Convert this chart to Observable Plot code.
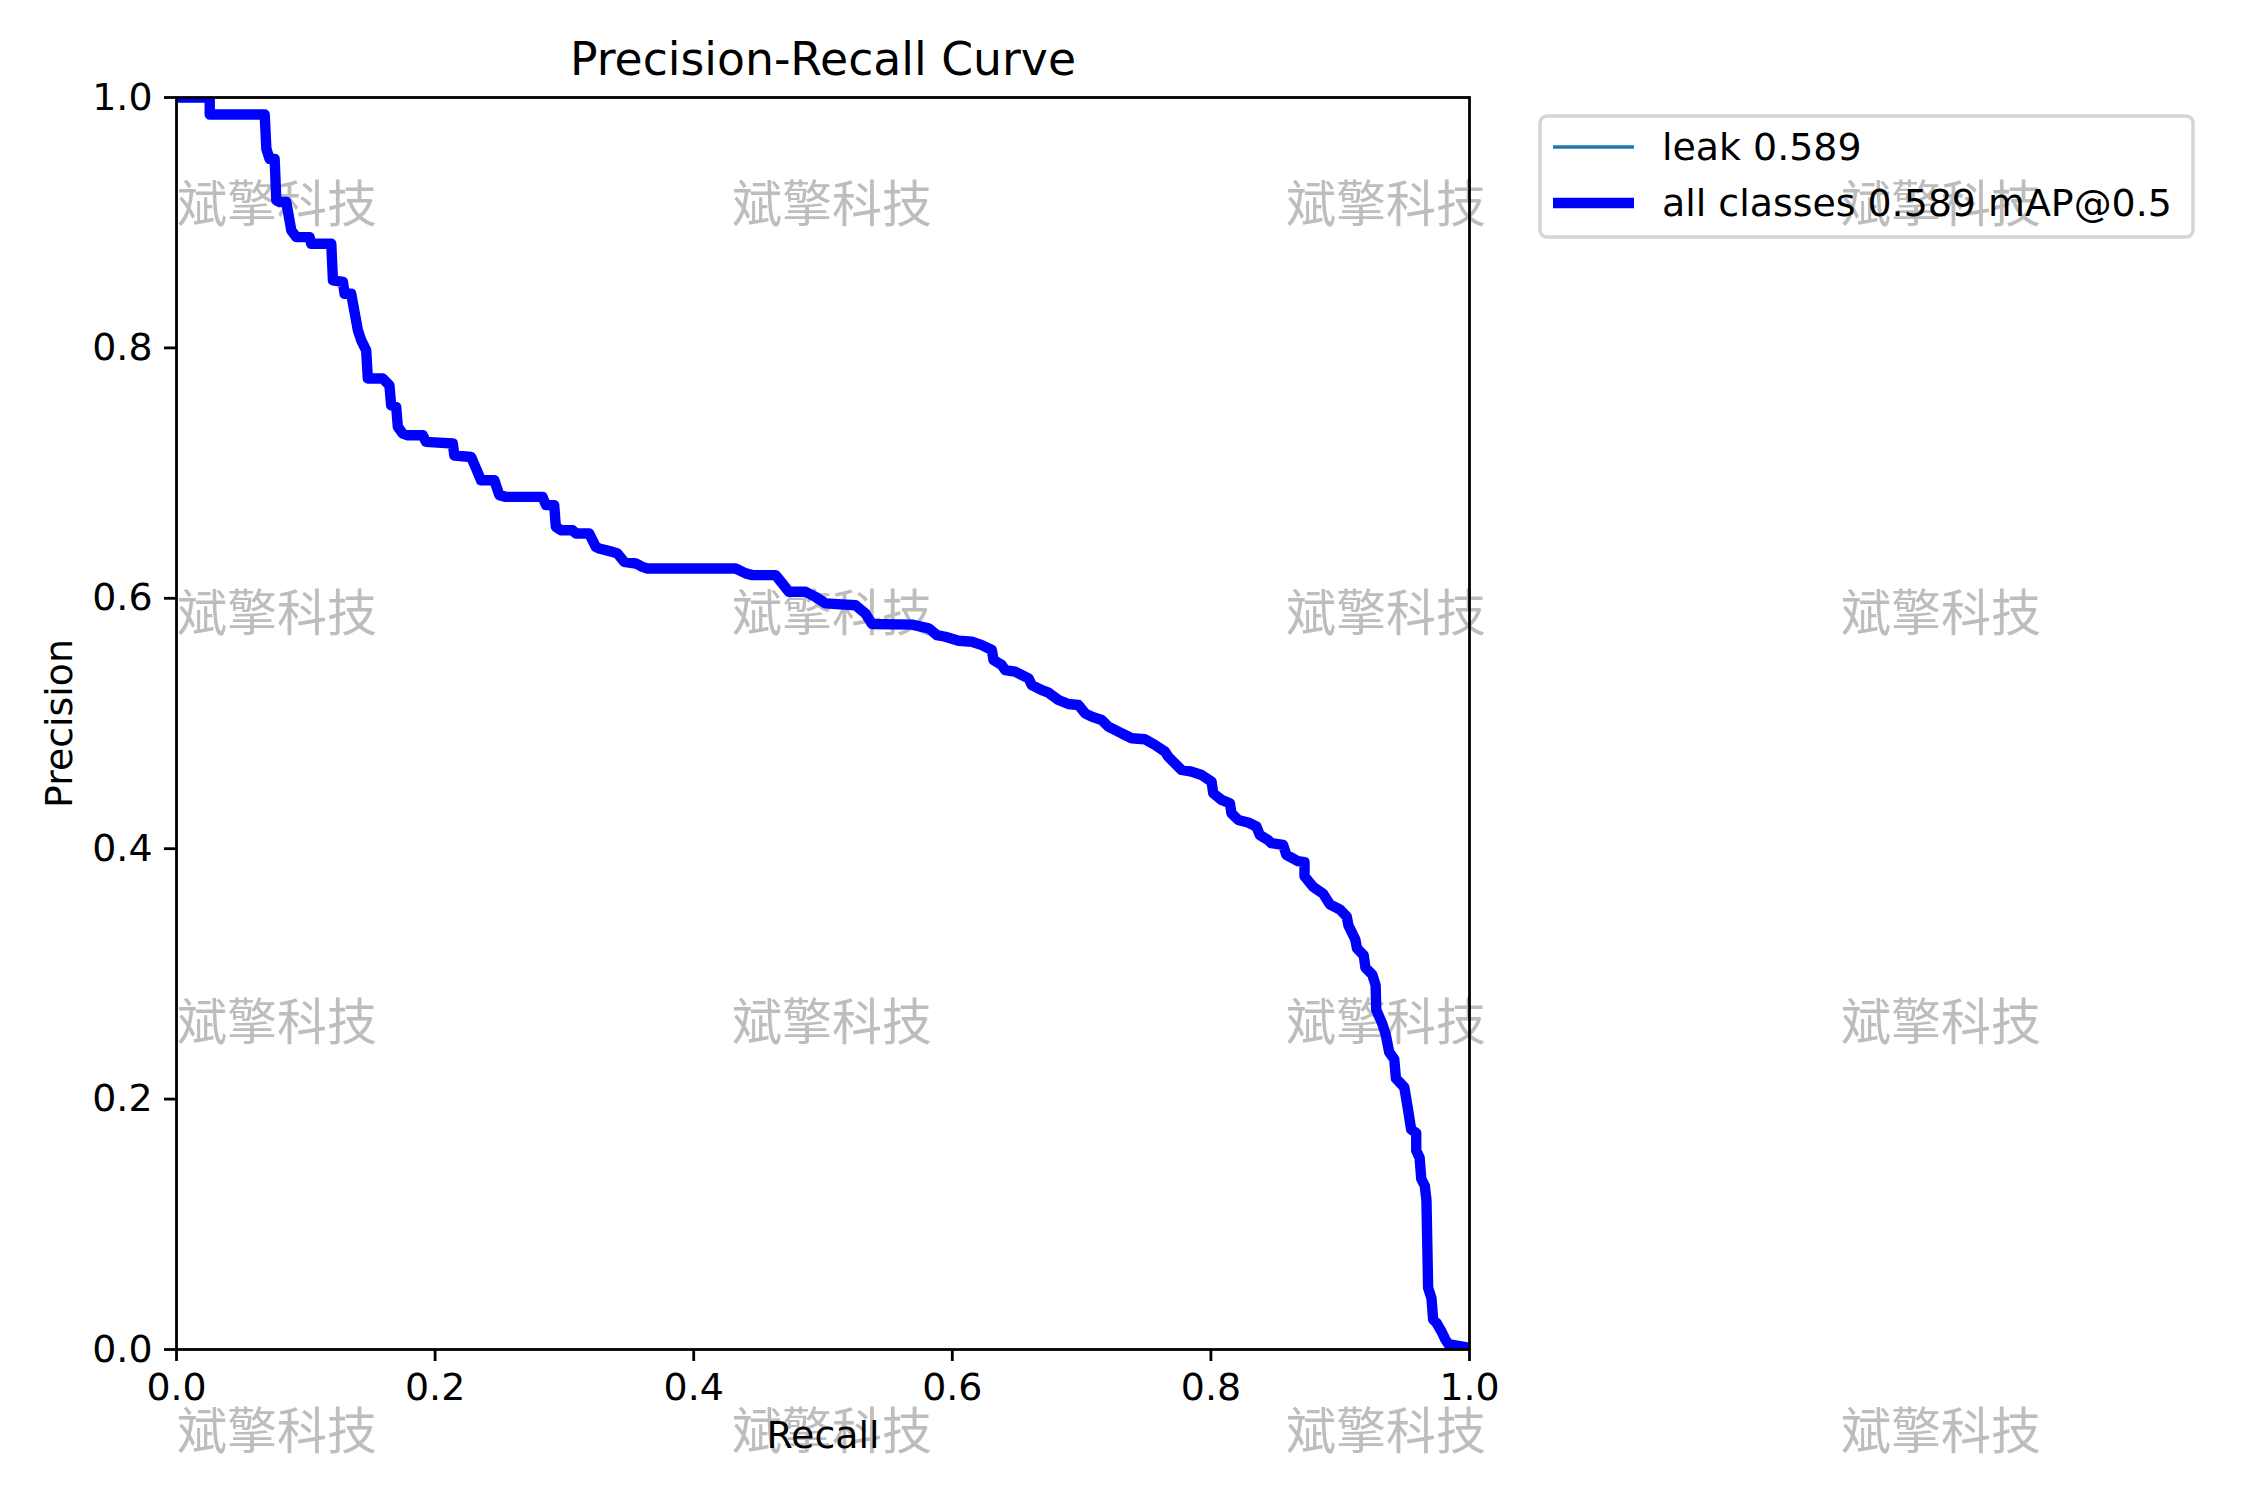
<!DOCTYPE html>
<html>
<head>
<meta charset="utf-8">
<script src="https://cdn.jsdelivr.net/npm/d3@7"></script>
<script src="https://cdn.jsdelivr.net/npm/@observablehq/plot@0.6"></script>
<style>
  html, body { margin: 0; padding: 0; background: white; }
  #chart { position: relative; width: 2250px; height: 1500px; }
</style>
</head>
<body>
<div id="chart"></div>
<script>
// ---- data ----
const recall = [
  0.0000, 0.0257, 0.0257, 0.0682, 0.0695, 0.0720, 0.0759, 0.0772, 0.0798, 0.0849,
  0.0888, 0.0927, 0.1029, 0.1042, 0.1197, 0.1210, 0.1287, 0.1300, 0.1351, 0.1403,
  0.1429, 0.1467, 0.1480, 0.1596, 0.1647, 0.1660, 0.1699, 0.1712, 0.1750, 0.1789,
  0.1905, 0.1930, 0.2137, 0.2149, 0.2278, 0.2317, 0.2355, 0.2458, 0.2497, 0.2548,
  0.2831, 0.2857, 0.2921, 0.2934, 0.2973, 0.3063, 0.3089, 0.3191, 0.3243, 0.3269,
  0.3372, 0.3410, 0.3462, 0.3552, 0.3603, 0.3642, 0.4324, 0.4402, 0.4453, 0.4633,
  0.4685, 0.4736, 0.4865, 0.4942, 0.5019, 0.5251, 0.5328, 0.5379, 0.5688, 0.5817,
  0.5881, 0.5946, 0.6049, 0.6151, 0.6229, 0.6306, 0.6319, 0.6383, 0.6409, 0.6486,
  0.6589, 0.6615, 0.6692, 0.6744, 0.6821, 0.6898, 0.6975, 0.7027, 0.7078, 0.7155,
  0.7207, 0.7284, 0.7336, 0.7387, 0.7490, 0.7568, 0.7645, 0.7670, 0.7773, 0.7850,
  0.7928, 0.8005, 0.8018, 0.8082, 0.8147, 0.8159, 0.8211, 0.8288, 0.8352, 0.8378,
  0.8442, 0.8468, 0.8558, 0.8584, 0.8674, 0.8724, 0.8724, 0.8790, 0.8868, 0.8920,
  0.8999, 0.9051, 0.9064, 0.9117, 0.9130, 0.9182, 0.9195, 0.9248, 0.9274, 0.9279,
  0.9326, 0.9352, 0.9379, 0.9418, 0.9431, 0.9496, 0.9523, 0.9549, 0.9588, 0.9588,
  0.9614, 0.9627, 0.9654, 0.9667, 0.9680, 0.9706, 0.9719, 0.9745, 0.9785, 0.9811,
  0.9837, 1.0000
];
const precision = [
  1.0000, 1.0000, 0.9864, 0.9864, 0.9590, 0.9510, 0.9510, 0.9178, 0.9165, 0.9165,
  0.8939, 0.8885, 0.8885, 0.8832, 0.8832, 0.8540, 0.8527, 0.8433, 0.8433, 0.8140,
  0.8060, 0.7980, 0.7755, 0.7755, 0.7701, 0.7542, 0.7529, 0.7369, 0.7316, 0.7302,
  0.7302, 0.7249, 0.7236, 0.7141, 0.7129, 0.7037, 0.6943, 0.6943, 0.6824, 0.6810,
  0.6810, 0.6744, 0.6744, 0.6571, 0.6544, 0.6544, 0.6518, 0.6518, 0.6411, 0.6398,
  0.6371, 0.6358, 0.6291, 0.6278, 0.6251, 0.6238, 0.6238, 0.6199, 0.6185, 0.6185,
  0.6119, 0.6052, 0.6052, 0.6012, 0.5959, 0.5945, 0.5879, 0.5795, 0.5790, 0.5760,
  0.5706, 0.5693, 0.5661, 0.5653, 0.5626, 0.5587, 0.5507, 0.5467, 0.5427, 0.5414,
  0.5361, 0.5307, 0.5267, 0.5246, 0.5188, 0.5156, 0.5148, 0.5081, 0.5055, 0.5028,
  0.4975, 0.4935, 0.4908, 0.4882, 0.4874, 0.4828, 0.4775, 0.4735, 0.4629, 0.4616,
  0.4589, 0.4536, 0.4443, 0.4390, 0.4363, 0.4283, 0.4230, 0.4209, 0.4177, 0.4110,
  0.4070, 0.4044, 0.4030, 0.3951, 0.3900, 0.3893, 0.3780, 0.3696, 0.3640, 0.3556,
  0.3513, 0.3457, 0.3387, 0.3275, 0.3204, 0.3148, 0.3050, 0.2994, 0.2909, 0.2713,
  0.2600, 0.2516, 0.2375, 0.2319, 0.2165, 0.2094, 0.1926, 0.1757, 0.1729, 0.1589,
  0.1532, 0.1364, 0.1308, 0.1195, 0.0493, 0.0408, 0.0239, 0.0212, 0.0141, 0.0084,
  0.0042, 0.0014
];
const xTicks = [0, 0.2, 0.4, 0.6, 0.8, 1.0];
const yTicks = [0, 0.2, 0.4, 0.6, 0.8, 1.0];
const titleText = "Precision-Recall Curve";
const xLabel = "Recall";
const yLabel = "Precision";
const legendLabels = ["leak 0.589", "all classes 0.589 mAP@0.5"];
const legendColors = ["#1f77b4", "#0000ff"];
const legendWidths = [3.5, 10.4];
const watermarkText = "斌擎科技";
const watermarkCols = [277, 832, 1386, 1941];
const watermarkRows = [200, 609, 1018, 1427];

const rows = recall.map((r, i) => ({r, p: precision[i]}));
const font = "'DejaVu Sans', 'Liberation Sans', sans-serif";
const fs = 37.9;

const svg = Plot.plot({
  width: 2250,
  height: 1500,
  marginLeft: 176,
  marginRight: 781,
  marginTop: 97,
  marginBottom: 151,
  style: {fontFamily: font, fontSize: fs + "px", background: "white", color: "black", overflow: "visible"},
  x: {domain: [0, 1], label: null},
  y: {domain: [0, 1], label: null},
  marks: [
    Plot.line(rows, {x: "r", y: "p", stroke: legendColors[0], strokeWidth: legendWidths[0], clip: true}),
    Plot.line(rows, {x: "r", y: "p", stroke: legendColors[1], strokeWidth: legendWidths[1], strokeLinejoin: "round", clip: true}),
    Plot.frame({stroke: "black", strokeWidth: 2.8}),
    Plot.axisX({ticks: xTicks, tickSize: 12, tickPadding: 12, tickFormat: d3.format(".1f"), strokeWidth: 2.8, label: null, fontSize: fs}),
    Plot.axisY({ticks: yTicks, tickSize: 12, tickPadding: 12, tickFormat: d3.format(".1f"), strokeWidth: 2.8, label: null, fontSize: fs}),
    Plot.text([titleText], {frameAnchor: "top", lineAnchor: "middle", textAnchor: "middle", dy: -37, fontSize: 45.7}),
    Plot.text([xLabel], {frameAnchor: "bottom", lineAnchor: "middle", textAnchor: "middle", dy: 86, fontSize: fs}),
    Plot.text([yLabel], {frameAnchor: "left", lineAnchor: "middle", textAnchor: "middle", dx: -117, rotate: -90, fontSize: fs})
  ]
});

document.getElementById("chart").appendChild(svg);

const root = d3.select(svg);

// watermark behind everything
const wm = root.insert("g", ":first-child").attr("class", "watermark");
for (const cy of watermarkRows) {
  for (const cx of watermarkCols) {
    wm.append("text")
      .attr("x", cx).attr("y", cy)
      .attr("text-anchor", "middle")
      .attr("dominant-baseline", "central")
      .attr("font-family", "'Noto Sans CJK SC', sans-serif")
      .attr("font-size", 50)
      .attr("fill", "#bdbdbd")
      .text(watermarkText);
  }
}

// legend (matplotlib style, outside the axes, upper left of bbox (1.04, 1))
const lg = root.append("g").attr("class", "legend");
lg.append("rect")
  .attr("x", 1540).attr("y", 116).attr("width", 653).attr("height", 121)
  .attr("rx", 7).attr("ry", 7)
  .attr("fill", "none").attr("stroke", "#d5d5d5").attr("stroke-width", 3.5);
const rowY = [147, 203];
legendLabels.forEach((lab, i) => {
  lg.append("line")
    .attr("x1", 1553).attr("x2", 1634).attr("y1", rowY[i]).attr("y2", rowY[i])
    .attr("stroke", legendColors[i]).attr("stroke-width", legendWidths[i]);
  lg.append("text")
    .attr("x", 1662).attr("y", rowY[i])
    .attr("text-anchor", "start")
    .attr("dominant-baseline", "central")
    .attr("font-family", font).attr("font-size", fs).attr("fill", "black")
    .text(lab);
});
</script>
</body>
</html>
